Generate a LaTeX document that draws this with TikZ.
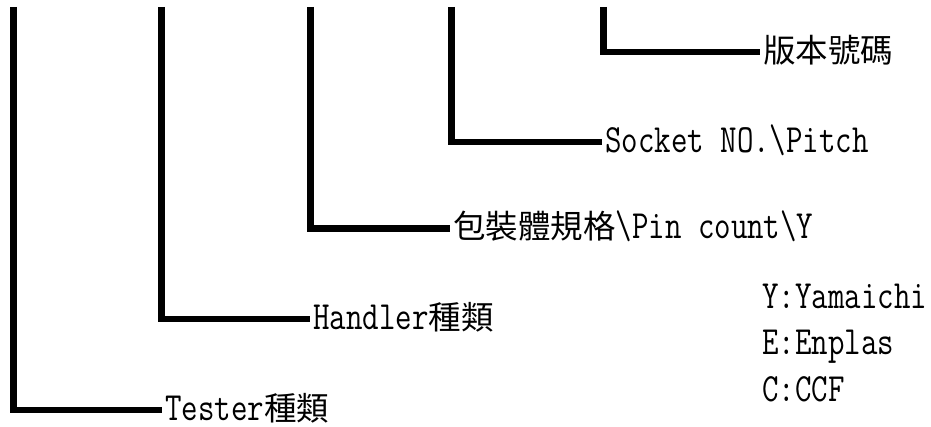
\documentclass[tikz,border=0pt]{standalone}
\usepackage{fontspec}
\setmainfont{Latin Modern Mono}[FakeStretch=0.8]
\newfontfamily\cjk{Noto Sans CJK TC}
\newcommand{\zh}[1]{{\cjk\fontsize{32.5}{40}\selectfont #1}}
\usepackage{tikz}

\begin{document}
\begin{tikzpicture}[x=1pt, y=-1pt,
    bracket/.style={line width=6.5pt},
    field/.style={anchor=west, inner xsep=3pt, inner ysep=0pt, text height=25pt, text depth=4pt, font=\fontsize{40}{44}\selectfont},
    vendor/.style={field, inner xsep=0pt}]
    \useasboundingbox (0,0) rectangle (931,427);

    % Bracket tops
    \coordinate (tstop) at (13.5,7);
    \coordinate (hdtop) at (161.5,7);
    \coordinate (pktop) at (310.5,7);
    \coordinate (sktop) at (451.5,7);
    \coordinate (vrtop) at (603.5,7);

    % Code fields
    \node[field] (tester) at (162,410) {Tester\zh{種類}};
    \node[field] (handler) at (310,319) {Handler\zh{種類}};
    \node[field] (package) at (450,228.5) {\zh{包裝體規格}\textbackslash Pin count\textbackslash Y};
    \node[field] (socket) at (602,142) {Socket NO.\textbackslash Pitch};
    \node[field] (version) at (760,52) {\zh{版本號碼}};

    % Brackets
    \draw[bracket] (tstop) |- (tester.west);
    \draw[bracket] (hdtop) |- (handler.west);
    \draw[bracket] (pktop) |- (package.west);
    \draw[bracket] (sktop) |- (socket.west);
    \draw[bracket] (vrtop) |- (version.west);

    % Vendor codes
    \node[vendor] (yamaichi) at (762,298) {Y:Yamaichi};
    \node[vendor] (enplas) at (762,344) {E:Enplas};
    \node[vendor] (ccf) at (762,391) {C:CCF};
\end{tikzpicture}
\end{document}
